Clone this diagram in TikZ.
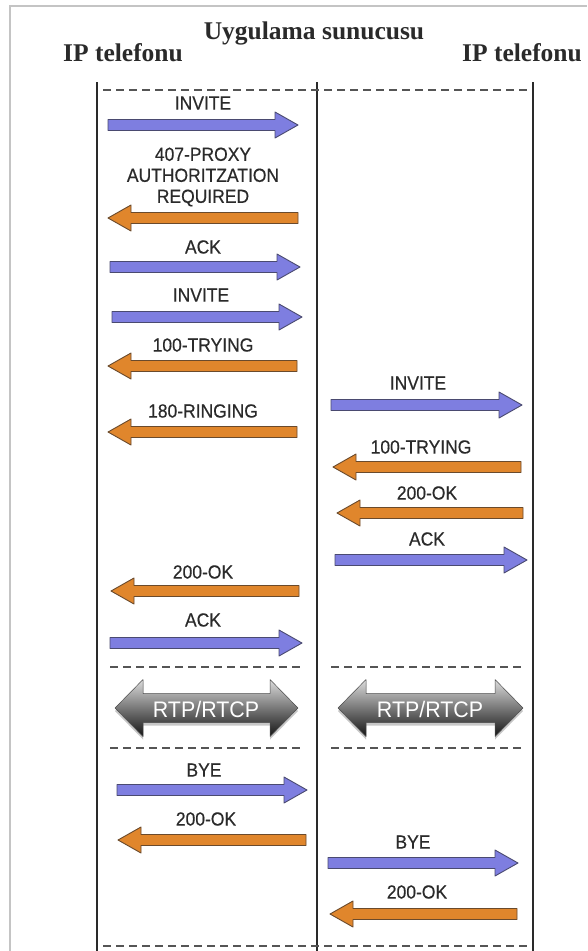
\documentclass[tikz,border=0pt]{standalone}
\usepackage{fontspec}
\setmainfont{Liberation Serif}
\newfontfamily\lblfont[FakeStretch=0.92,FakeBold=0.4]{Liberation Sans}
\newfontfamily\rtpfont[FakeStretch=0.95]{Liberation Sans}
\usetikzlibrary{calc}

\definecolor{inkgray}{HTML}{2A2A2A}
\definecolor{framegray}{HTML}{C4C4C4}
\definecolor{linegray}{HTML}{2A2A2A}
\definecolor{dashgray}{HTML}{555555}
\definecolor{reqfill}{HTML}{7E7EE0}
\definecolor{reqedge}{HTML}{4A4A70}
\definecolor{respfill}{HTML}{E0862C}
\definecolor{respedge}{HTML}{6A4A2C}

\tikzset{
  reqarrow/.style={fill=reqfill, draw=reqedge, line width=0.9pt, line join=round},
  resparrow/.style={fill=respfill, draw=respedge, line width=0.9pt, line join=round},
  lbl/.style={font=\lblfont\fontsize{19}{21}\selectfont, text=inkgray, inner sep=0pt, align=center},
  hdr/.style={font=\bfseries\fontsize{25.5}{28}\selectfont, text=inkgray, inner sep=0pt, anchor=base},
  lifeline/.style={draw=linegray, line width=1.4pt},
  sepline/.style={draw=dashgray, line width=1.6pt, dash pattern=on 8pt off 5pt},
  frameline/.style={draw=framegray, line width=2pt},
  rtpbody/.style={top color=black!14, middle color=black!60, bottom color=black!92, draw=black!70, line width=0.5pt, line join=round,
    preaction={fill=black, opacity=0.22, transform canvas={yshift=-3pt}}},
  rtplbl/.style={font=\rtpfont\fontsize{22.5}{24}\selectfont, text=white, inner sep=0pt}
}

% horizontal message arrow: style, tail, tip
\newcommand\msgarrow[3]{%
  \path[#1] let \p1=(#2), \p2=(#3), \n1={(\x2-\x1)/abs(\x2-\x1)} in
    (\x1,{\y1+5.5pt}) -- ({\x2-(\n1)*23pt},{\y1+5.5pt}) -- ({\x2-(\n1)*23pt},{\y1+13pt})
    -- (\x2,\y1) -- ({\x2-(\n1)*23pt},{\y1-13pt}) -- ({\x2-(\n1)*23pt},{\y1-5.5pt})
    -- (\x1,{\y1-5.5pt}) -- cycle;}

% shaded double arrow for the media stream: left tip, right tip
\newcommand\streamarrow[2]{%
  \path[rtpbody] let \p1=(#1), \p2=(#2) in
    (\x1,\y1) -- ({\x1+28pt},{\y1+28.5pt}) -- ({\x1+28pt},{\y1+14.5pt})
    -- ({\x2-28pt},{\y1+14.5pt}) -- ({\x2-28pt},{\y1+28.5pt}) -- (\x2,\y2)
    -- ({\x2-28pt},{\y1-28.5pt}) -- ({\x2-28pt},{\y1-14.5pt})
    -- ({\x1+28pt},{\y1-14.5pt}) -- ({\x1+28pt},{\y1-28.5pt}) -- cycle;}

\begin{document}
\begin{tikzpicture}[x=1pt, y=-1pt]
\useasboundingbox (0,0) rectangle (587,951);
\fill[white] (0,0) rectangle (587,951);

% outer frame
\coordinate (frBL) at (10,951);
\coordinate (frTL) at (10,6);
\coordinate (frTR) at (587,6);
\draw[frameline] (frBL) -- (frTL) -- (frTR);

% headings
\node[hdr] (server) at (314,39) {Uygulama sunucusu};
\node[hdr] (phoneA) at (123,61) {IP telefonu};
\node[hdr] (phoneB) at (522,61) {IP telefonu};

% lifelines
\coordinate (laTop) at (97,82);  \coordinate (laBot) at (97,951);
\coordinate (lsTop) at (317,82); \coordinate (lsBot) at (317,951);
\coordinate (lbTop) at (533,82); \coordinate (lbBot) at (533,951);
\draw[lifeline] (laTop) -- (laBot);
\draw[lifeline] (lsTop) -- (lsBot);
\draw[lifeline] (lbTop) -- (lbBot);

% separators
\coordinate (sepTopA) at (103,90);  \coordinate (sepTopB) at (527,90);
\coordinate (sepBotA) at (103,946); \coordinate (sepBotB) at (527,946);
\coordinate (s1a) at (110,667); \coordinate (s1b) at (304,667);
\coordinate (s2a) at (331,667); \coordinate (s2b) at (523,667);
\coordinate (s3a) at (110,748); \coordinate (s3b) at (304,748);
\coordinate (s4a) at (331,748); \coordinate (s4b) at (523,748);
\draw[sepline] (sepTopA) -- (sepTopB);
\draw[sepline] (sepBotA) -- (sepBotB);
\draw[sepline] (s1a) -- (s1b);
\draw[sepline] (s2a) -- (s2b);
\draw[sepline] (s3a) -- (s3b);
\draw[sepline] (s4a) -- (s4b);

% ---- phone A <-> server ----
\node[lbl] (t1) at (203,103) {INVITE};
\coordinate (a1s) at (108,125); \coordinate (a1e) at (298,125);
\msgarrow{reqarrow}{a1s}{a1e}

\node[lbl] (t2) at (203,177) {407-PROXY\\AUTHORITZATION\\REQUIRED};
\coordinate (a2s) at (298,218); \coordinate (a2e) at (108,218);
\msgarrow{resparrow}{a2s}{a2e}

\node[lbl] (t3) at (203,247) {ACK};
\coordinate (a3s) at (110,267); \coordinate (a3e) at (300,267);
\msgarrow{reqarrow}{a3s}{a3e}

\node[lbl] (t4) at (201,295) {INVITE};
\coordinate (a4s) at (112,317); \coordinate (a4e) at (302,317);
\msgarrow{reqarrow}{a4s}{a4e}

\node[lbl] (t5) at (203,345) {100-TRYING};
\coordinate (a5s) at (297,366); \coordinate (a5e) at (108,366);
\msgarrow{resparrow}{a5s}{a5e}

\node[lbl] (t6) at (203,411) {180-RINGING};
\coordinate (a6s) at (297,432); \coordinate (a6e) at (108,432);
\msgarrow{resparrow}{a6s}{a6e}

\node[lbl] (t7) at (203,572) {200-OK};
\coordinate (a7s) at (299,591); \coordinate (a7e) at (111,591);
\msgarrow{resparrow}{a7s}{a7e}

\node[lbl] (t8) at (203,620) {ACK};
\coordinate (a8s) at (110,643); \coordinate (a8e) at (302,643);
\msgarrow{reqarrow}{a8s}{a8e}

\node[lbl] (t9) at (204,770) {BYE};
\coordinate (a9s) at (117,790); \coordinate (a9e) at (307,790);
\msgarrow{reqarrow}{a9s}{a9e}

\node[lbl] (t10) at (206,819) {200-OK};
\coordinate (a10s) at (306,840); \coordinate (a10e) at (118,840);
\msgarrow{resparrow}{a10s}{a10e}

% ---- server <-> phone B ----
\node[lbl] (u1) at (418,383) {INVITE};
\coordinate (b1s) at (331,405); \coordinate (b1e) at (522,405);
\msgarrow{reqarrow}{b1s}{b1e}

\node[lbl] (u2) at (421,447) {100-TRYING};
\coordinate (b2s) at (521,467); \coordinate (b2e) at (333,467);
\msgarrow{resparrow}{b2s}{b2e}

\node[lbl] (u3) at (427,493) {200-OK};
\coordinate (b3s) at (523,513); \coordinate (b3e) at (337,513);
\msgarrow{resparrow}{b3s}{b3e}

\node[lbl] (u4) at (427,539) {ACK};
\coordinate (b4s) at (335,560); \coordinate (b4e) at (527,560);
\msgarrow{reqarrow}{b4s}{b4e}

\node[lbl] (u5) at (413,842) {BYE};
\coordinate (b5s) at (328,863); \coordinate (b5e) at (518,863);
\msgarrow{reqarrow}{b5s}{b5e}

\node[lbl] (u6) at (417,892) {200-OK};
\coordinate (b6s) at (517,914); \coordinate (b6e) at (330,914);
\msgarrow{resparrow}{b6s}{b6e}

% ---- media streams ----
\coordinate (rA1) at (115,708); \coordinate (rA2) at (298,708);
\coordinate (rB1) at (338,708); \coordinate (rB2) at (523,708);
\streamarrow{rA1}{rA2}
\streamarrow{rB1}{rB2}
\node[rtplbl] (rtpA) at (206,709) {RTP/RTCP};
\node[rtplbl] (rtpB) at (430,709) {RTP/RTCP};
\end{tikzpicture}
\end{document}
